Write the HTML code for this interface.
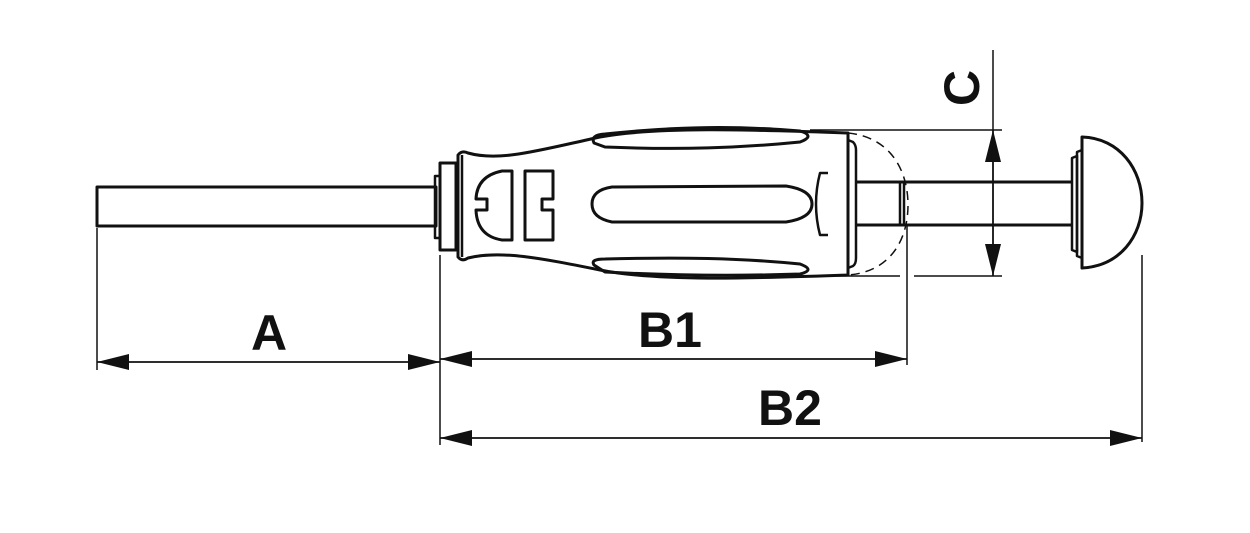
<!DOCTYPE html>
<html><head><meta charset="utf-8"><style>html,body{margin:0;padding:0;background:#fff}svg{display:block}</style></head>
<body>
<svg width="1250" height="533" viewBox="0 0 1250 533" xmlns="http://www.w3.org/2000/svg">
<defs>
<marker id="ar" viewBox="0 0 32 16" refX="32" refY="8" markerWidth="32" markerHeight="16" markerUnits="userSpaceOnUse" orient="auto"><path d="M0,0 L32,8 L0,16 Z" fill="#111"/></marker>
</defs>
<g fill="none" stroke="#111" stroke-linejoin="round">
<!-- left shaft -->
<rect x="97" y="187" width="339" height="39" stroke-width="3"/>
<rect x="435" y="176" width="5" height="62" stroke-width="2.5"/>
<rect x="440" y="163" width="16" height="87" stroke-width="3"/>
<!-- handle outline -->
<path d="M458,155 Q462,150 468,153 C500,162 540,150 600,137 C660,126 760,130 848,133 L848,275 C760,278 660,282 600,270 C540,258 500,250 468,258 Q462,262 458,257 Z" stroke-width="3"/>
<line x1="462" y1="155" x2="462" y2="257" stroke-width="2.5"/>
<!-- top grip pad -->
<path d="M594,143 Q590,135 605,134 C680,126 740,126 800,131 Q816,136 800,142 C740,148 680,150 605,147 Z" stroke-width="3"/>
<!-- bottom grip pad -->
<path d="M594,265 Q590,259 605,259 C680,257 740,258 800,264 Q816,270 800,274 C740,276 680,276 605,272 Z" stroke-width="3"/>
<!-- center slot -->
<path d="M612,187 L786,186 Q812,190 812,204 Q812,218 786,222 L612,222 Q592,218 592,204 Q592,190 612,187 Z" stroke-width="3"/>
<!-- half moon -->
<path d="M512,171 L502,171 Q477,176 476,199 L487,199 L487,210 L476,210 Q477,236 502,240 L512,240 Z" stroke-width="3"/>
<path d="M525,171 L553,171 L553,199 L542,199 L542,210 L553,210 L553,240 L525,240 Z" stroke-width="3"/>
<!-- bracket -->
<path d="M828,173 L820,173 Q812,204 820,235 L828,235" stroke-width="2.5"/>
<!-- right flange -->
<path d="M848,140 L853,142 Q856,145 856,150 L856,258 Q856,264 853,266 L848,268" stroke-width="2.5"/>
<!-- right shaft -->
<line x1="857" y1="182" x2="1072" y2="182" stroke-width="3"/>
<line x1="857" y1="225" x2="1072" y2="225" stroke-width="3"/>
<rect x="900" y="182" width="4" height="43" stroke-width="2.5"/>
<!-- dashed arc -->
<path d="M848,133 C890,137 908,170 908,205 C908,240 890,272 848,275" stroke-width="1.5" stroke-dasharray="9,6"/>
<!-- cap -->
<path d="M1072,158 L1077,156 L1077,252 L1072,250 Z" stroke-width="2.5"/>
<path d="M1077,152 L1082,150 L1082,258 L1077,256 Z" stroke-width="2.5"/>
<path d="M1082,137 C1120,138 1142,170 1142,203 C1142,236 1120,266 1082,268 Z" stroke-width="3"/>
<!-- extension lines -->
<g stroke-width="1.5">
<line x1="97" y1="228" x2="97" y2="370"/>
<line x1="440" y1="255" x2="440" y2="445"/>
<line x1="907" y1="225" x2="907" y2="365"/>
<line x1="1142" y1="255" x2="1142" y2="442"/>
<line x1="810" y1="130" x2="1002" y2="130"/>
<line x1="810" y1="276" x2="900" y2="276"/>
<line x1="914" y1="276" x2="1002" y2="276"/>
<line x1="993" y1="50" x2="993" y2="130"/>
</g>
<!-- dimension lines -->
<g stroke-width="1.8">
<line x1="268" y1="362" x2="97" y2="362" marker-end="url(#ar)"/>
<line x1="268" y1="362" x2="440" y2="362" marker-end="url(#ar)"/>
<line x1="670" y1="359" x2="440" y2="359" marker-end="url(#ar)"/>
<line x1="670" y1="359" x2="907" y2="359" marker-end="url(#ar)"/>
<line x1="790" y1="438" x2="440" y2="438" marker-end="url(#ar)"/>
<line x1="790" y1="438" x2="1142" y2="438" marker-end="url(#ar)"/>
<line x1="993" y1="203" x2="993" y2="130" marker-end="url(#ar)"/>
<line x1="993" y1="203" x2="993" y2="276" marker-end="url(#ar)"/>
</g>
</g>
<g font-family="Liberation Sans, sans-serif" font-weight="bold" font-size="50" fill="#111" text-anchor="middle">
<text x="269" y="350">A</text>
<text x="670" y="347">B1</text>
<text x="790" y="425">B2</text>
<text x="0" y="0" transform="translate(979,88) rotate(-90)">C</text>
</g>
</svg>
</body></html>
